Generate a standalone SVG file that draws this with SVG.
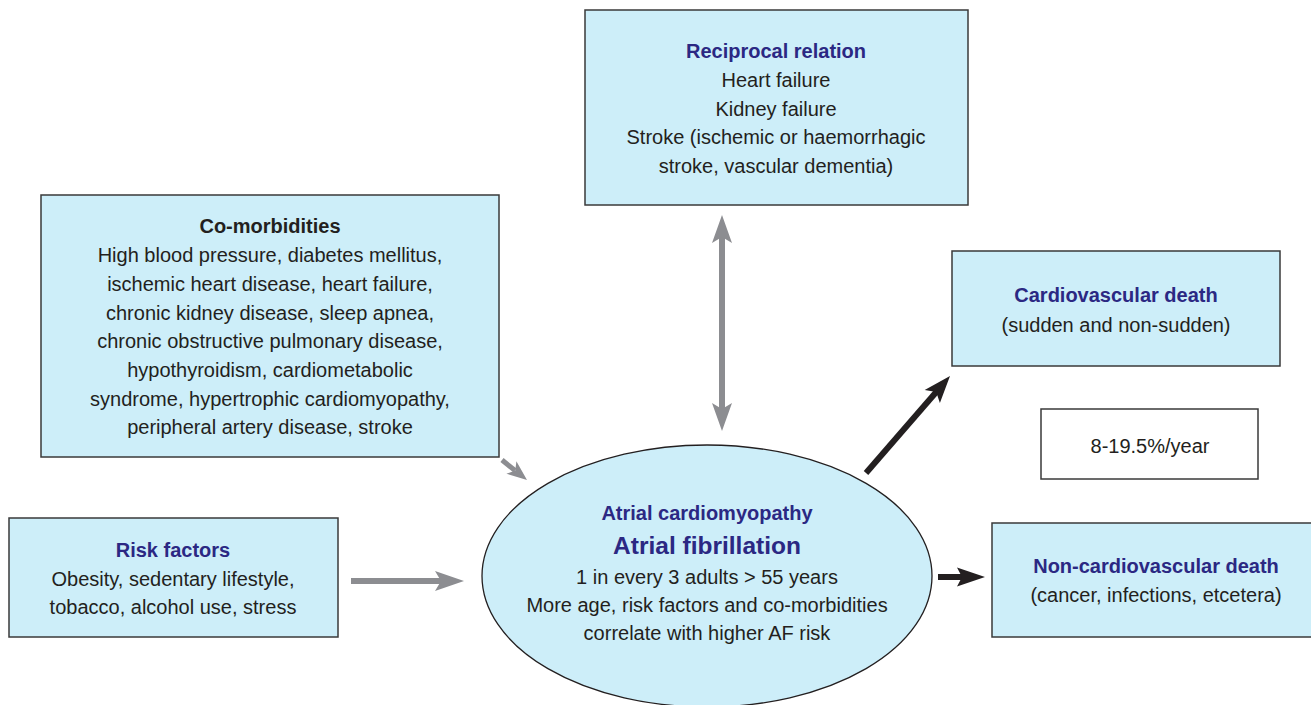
<svg xmlns="http://www.w3.org/2000/svg" width="1311" height="705" viewBox="0 0 1311 705">
<defs>
<style>
.box{fill:#cdeef9;stroke:#3a3a3a;stroke-width:1.5}
.plain{fill:#ffffff;stroke:#3a3a3a;stroke-width:1.5}
text{font-family:"Liberation Sans",Arial,sans-serif;text-anchor:middle;font-size:20px;fill:#231f20}
.t{font-weight:bold;fill:#2b2883}
.tk{font-weight:bold;fill:#231f20}
.ga{stroke:#8c8d91;stroke-width:6;fill:none}
.gh{fill:#8c8d91}
.ba{stroke:#231f20;stroke-width:6;fill:none}
.bh{fill:#231f20}
</style>
</defs>
<rect width="1311" height="705" fill="#ffffff"/>

<g id="connectors">
<line class="ga" x1="722" y1="234" x2="722" y2="412"/>
<path class="gh" d="M722,215 L732,243 L722,237 L712,243 Z"/>
<path class="gh" d="M722,431 L732,403 L722,409 L712,403 Z"/>
<line class="ga" x1="502" y1="460" x2="515" y2="470.5" style="stroke-width:5"/>
<path class="gh" d="M527,480 L506.4,473.7 L515.3,470.6 L516.4,461.3 Z"/>
<line class="ga" x1="351" y1="581" x2="442" y2="581"/>
<path class="gh" d="M464,581 L435,571 L441,581 L435,591 Z"/>
<line class="ba" x1="866" y1="473" x2="938" y2="390"/>
<path class="bh" d="M950,376 L939.9,403 L936.2,391.9 L924.7,389.9 Z"/>
<line class="ba" x1="938" y1="577" x2="964" y2="577"/>
<path class="bh" d="M985,577 L957,567.5 L962,577 L957,586.5 Z"/>
</g>

<g id="reciprocal">
<rect class="box" x="585" y="10" width="383" height="195"/>
<text class="t" x="776" y="58">Reciprocal relation</text>
<text x="776" y="87">Heart failure</text>
<text x="776" y="116">Kidney failure</text>
<text x="776" y="144">Stroke (ischemic or haemorrhagic</text>
<text x="776" y="173">stroke, vascular dementia)</text>
</g>

<g id="comorbidities">
<rect class="box" x="41" y="195" width="458" height="262"/>
<text class="tk" x="270" y="233">Co-morbidities</text>
<text x="270" y="262">High blood pressure, diabetes mellitus,</text>
<text x="270" y="291">ischemic heart disease, heart failure,</text>
<text x="270" y="320">chronic kidney disease, sleep apnea,</text>
<text x="270" y="348">chronic obstructive pulmonary disease,</text>
<text x="270" y="377">hypothyroidism, cardiometabolic</text>
<text x="270" y="406">syndrome, hypertrophic cardiomyopathy,</text>
<text x="270" y="434">peripheral artery disease, stroke</text>
</g>

<g id="risk">
<rect class="box" x="9" y="518" width="329" height="119"/>
<text class="t" x="173" y="557">Risk factors</text>
<text x="173" y="586">Obesity, sedentary lifestyle,</text>
<text x="173" y="614">tobacco, alcohol use, stress</text>
</g>

<g id="af">
<ellipse cx="707" cy="576" rx="225" ry="131" fill="#cdeef9" stroke="#231f20" stroke-width="1.3"/>
<text class="t" x="707" y="520">Atrial cardiomyopathy</text>
<text class="t" x="707" y="554" style="font-size:24.5px">Atrial fibrillation</text>
<text x="707" y="584">1 in every 3 adults &gt; 55 years</text>
<text x="707" y="612">More age, risk factors and co-morbidities</text>
<text x="707" y="640">correlate with higher AF risk</text>
</g>

<g id="cvdeath">
<rect class="box" x="952" y="251" width="328" height="115"/>
<text class="t" x="1116" y="302">Cardiovascular death</text>
<text x="1116" y="332">(sudden and non-sudden)</text>
</g>

<g id="rate">
<rect class="plain" x="1041" y="409" width="217" height="70"/>
<text x="1150" y="453">8-19.5%/year</text>
</g>

<g id="noncvdeath">
<rect class="box" x="992" y="523" width="325" height="114"/>
<text class="t" x="1156" y="573">Non-cardiovascular death</text>
<text x="1156" y="602">(cancer, infections, etcetera)</text>
</g>
</svg>
